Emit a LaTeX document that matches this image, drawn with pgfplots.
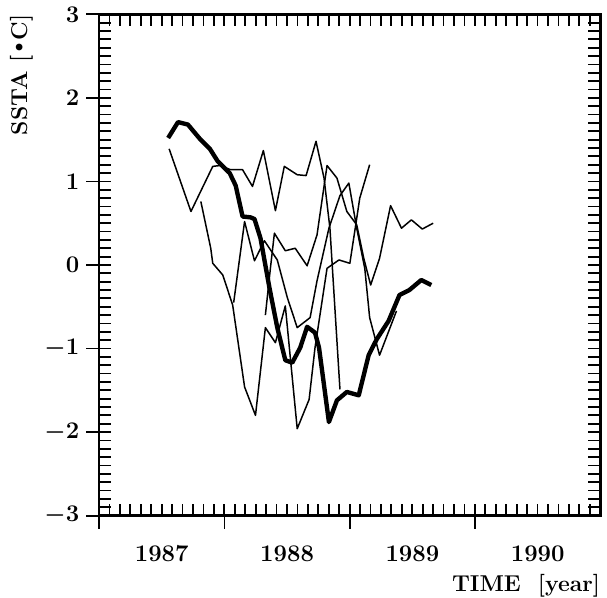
\documentclass[border=0pt]{standalone}
\usepackage{pgfplots}
\pgfplotsset{compat=1.18}

\pgfplotsset{
  ssta/.style={
    scale only axis, width=252pt, height=252pt,
    xmin=1987, xmax=1991, ymin=-3, ymax=3,
    ytick={-3,...,3},
    tick style={line width=0.9pt, black},
  },
  thin/.style={black, line width=0.75pt, no markers, line join=round},
}

\begin{document}
\begin{tikzpicture}
% box, inward ticks on all sides, and data
\begin{axis}[ssta,
  xtick={1987,1988,1989,1990,1991},
  minor xtick={1987,1987.0833,...,1991},
  minor ytick={-3,-2.9,...,3},
  axis line style={line width=1.4pt},
  tick align=inside,
  xtick pos=both, ytick pos=both,
  major tick length=6pt, minor tick length=6pt,
  xticklabels={}, yticklabels={},
]
% observed SSTA (thick)
\addplot[black, line width=2.2pt, no markers, line join=round] coordinates {
(1987.551,1.52) (1987.630,1.71) (1987.709,1.68) (1987.804,1.51) (1987.884,1.39)
(1987.947,1.24) (1988.042,1.10) (1988.090,0.95) (1988.145,0.58) (1988.208,0.57)
(1988.240,0.55) (1988.288,0.32) (1988.359,-0.27) (1988.422,-0.75) (1988.486,-1.14)
(1988.541,-1.17) (1988.605,-0.99) (1988.660,-0.74) (1988.723,-0.81) (1988.755,-0.99)
(1988.834,-1.88) (1988.898,-1.62) (1988.977,-1.52) (1989.072,-1.56) (1989.151,-1.08)
(1989.215,-0.89) (1989.310,-0.67) (1989.397,-0.36) (1989.476,-0.30) (1989.571,-0.18)
(1989.651,-0.24)
};
% forecasts (thin)
\addplot[thin] coordinates {
(1987.559,1.39) (1987.733,0.64) (1987.907,1.18) (1987.963,1.19) (1988.050,1.14)
(1988.145,1.14) (1988.224,0.94) (1988.311,1.37) (1988.407,0.65) (1988.478,1.18)
(1988.581,1.08) (1988.652,1.07) (1988.731,1.48) (1988.795,1.04) (1988.842,0.44)
(1988.922,-1.49)
};
\addplot[thin] coordinates {
(1987.812,0.76) (1987.891,0.20) (1987.907,0.02) (1987.987,-0.12) (1988.066,-0.48)
(1988.161,-1.46) (1988.248,-1.80) (1988.327,-0.75) (1988.407,-0.93) (1988.486,-0.49)
(1988.581,-1.96) (1988.676,-1.61) (1988.723,-0.99) (1988.819,-0.04) (1988.914,0.06)
(1989.001,0.02) (1989.048,0.48) (1989.080,0.80) (1989.159,1.20)
};
\addplot[thin] coordinates {
(1988.074,-0.45) (1988.161,0.52) (1988.240,0.05) (1988.319,0.29) (1988.422,0.06)
(1988.502,-0.39) (1988.581,-0.75) (1988.684,-0.63) (1988.739,-0.19) (1988.834,0.44)
(1988.922,0.83) (1988.993,0.98) (1989.056,0.44) (1989.120,-0.04) (1989.159,-0.63)
(1989.238,-1.08) (1989.373,-0.55)
};
\addplot[thin] coordinates {
(1988.327,-0.60) (1988.367,-0.04) (1988.399,0.38) (1988.486,0.17) (1988.565,0.20)
(1988.660,-0.01) (1988.739,0.36) (1988.819,1.19) (1988.898,1.04) (1988.977,0.64)
(1989.056,0.48) (1989.112,0.08) (1989.167,-0.24) (1989.238,0.08) (1989.326,0.71)
(1989.413,0.44) (1989.492,0.54) (1989.579,0.43) (1989.666,0.50)
};
\end{axis}
% outward major ticks, tick labels and axis labels
\begin{axis}[ssta,
  tick align=outside,
  xtick pos=left, ytick pos=left,
  xtick={1987,1988,1989,1990},
  major tick length=6.5pt,
  xticklabels={1987,1988,1989,1990},
  xticklabel style={xshift=31.5pt, yshift=-5pt, font=\fontsize{12}{14}\selectfont\bfseries},
  yticklabel style={font=\fontsize{12}{14}\selectfont\bfseries\boldmath},
  xlabel={TIME\ \ [year]},
  ylabel={SSTA\ [\kern-1pt\raisebox{0.25ex}{\textbullet}\kern-1.5ptC]},
  xlabel style={at={(axis description cs:1,-0.116)}, anchor=north east, inner sep=0pt,
    font=\fontsize{11.5}{13}\selectfont\bfseries},
  ylabel style={at={(axis description cs:-0.155,1)}, anchor=east, inner xsep=0pt, inner ysep=5pt,
    font=\fontsize{11.5}{13}\selectfont\bfseries},
]
\end{axis}
\end{tikzpicture}
\end{document}
